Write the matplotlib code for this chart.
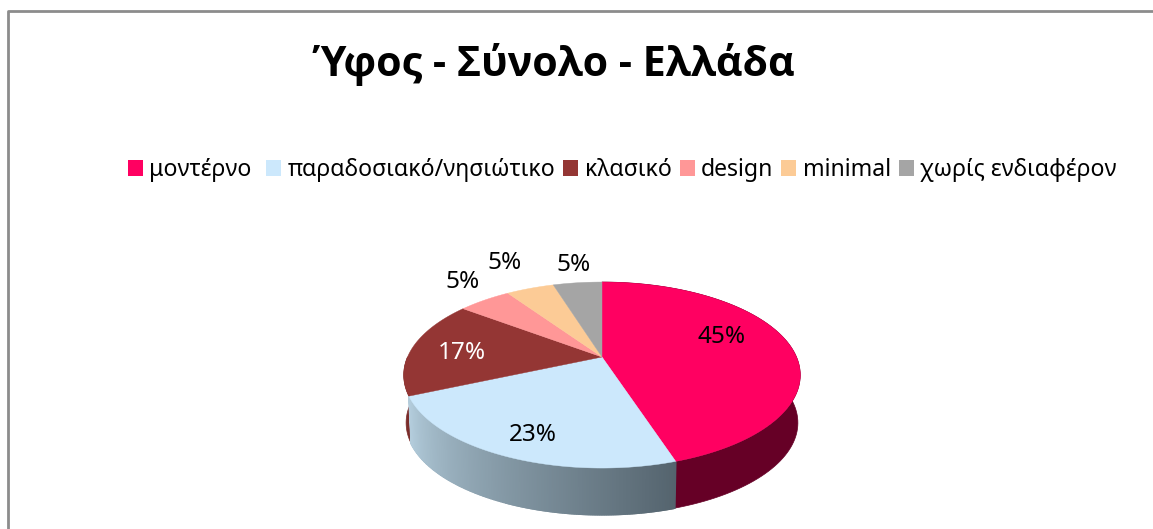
import numpy as np
import matplotlib
matplotlib.use('Agg')
import matplotlib.pyplot as plt
from matplotlib.patches import Polygon, Rectangle

categories = ['μοντέρνο ', 'παραδοσιακό/νησιώτικο', 'κλασικό', 'design', 'minimal', 'χωρίς ενδιαφέρον']
values = [45, 23.4, 16.9, 5.2, 4.7, 4.8]
colors = ['#FF0061', '#CCE8FC', '#943634', '#FF9797', '#FCCB96', '#A5A5A5']
label_colors = ['black', 'black', 'white', 'black', 'black', 'black']
title = 'Ύφος - Σύνολο - Ελλάδα'

plt.rcParams['font.family'] = ['Noto Sans', 'DejaVu Sans']

fig = plt.figure(figsize=(11.53, 5.29), dpi=100)
ax = fig.add_axes([0, 0, 1, 1])
ax.set_xlim(0, 1153)
ax.set_ylim(529, 0)
ax.axis('off')

# pie geometry in pixels, perspective makes the front of the disc bigger
cx, cy = 602, 357
rx, ry, k = 194.5, 89.5, 0.194
depth = 48


def rim(theta, r=1.0, drop=0):
    w = 1 + k * np.cos(theta)
    x = cx + r * rx * np.sin(theta) / w
    y = cy - r * ry * np.cos(theta) / w + drop
    return x, y


def wall(a0, a1, c, lw=0.5):
    t = np.linspace(a0, a1, 100)
    x0, y0 = rim(t)
    x1, y1 = rim(t, 0.988, depth)
    pts = np.column_stack([np.r_[x0, x1[::-1]], np.r_[y0, y1[::-1]]])
    ax.add_patch(Polygon(pts, closed=True, fc=c, ec=c, lw=lw))


edges = np.cumsum([0] + values) / sum(values) * 2 * np.pi

# side wall first, the blue one has a gradient so it goes in strips
wall(edges[0], edges[1], '#660026')
wall(edges[2], 1.5 * np.pi, '#7A2C2A')
steps = np.linspace(edges[1], edges[2], 200)
for j in range(len(steps) - 1):
    f = j / (len(steps) - 2)
    c = (1 - f) * np.array([0.33, 0.39, 0.43]) + f * np.array([0.70, 0.80, 0.86])
    wall(steps[j], steps[j + 1], c, lw=1.2)

# top of the pie
for i in range(len(values)):
    x, y = rim(np.linspace(edges[i], edges[i + 1], 120))
    pts = np.column_stack([np.r_[cx, x], np.r_[cy, y]])
    ax.add_patch(Polygon(pts, closed=True, fc=colors[i], ec=colors[i], lw=0.3))

# percent labels
label_x = [722, 533, 462, 463, 505, 574]
label_y = [337, 435, 353, 282, 263, 265]
for i in range(len(values)):
    ax.text(label_x[i], label_y[i], f'{values[i]:.0f}%', ha='center', va='center', fontsize=17.5,
            color=label_colors[i])

ax.text(555, 64, title, ha='center', va='center', fontsize=29.6, fontweight='bold',
        family=['Open Sans', 'DejaVu Sans'])

handles = [Rectangle((0, 0), 1, 1, fc=c, ec='none') for c in colors]
ax.legend(handles, categories, ncol=6, loc='center left', bbox_to_anchor=(128 / 1153, 1 - 170 / 529), frameon=False,
          fontsize=16.6, handlelength=0.65, handleheight=0.65, handletextpad=0.28, columnspacing=0.35,
          borderpad=0, borderaxespad=0)

# chart frame, only top and left are in the crop
ax.plot([8, 8, 1153], [529, 11, 11], color='#8C8C8C', lw=2)

fig.savefig('out.png', dpi=100)
